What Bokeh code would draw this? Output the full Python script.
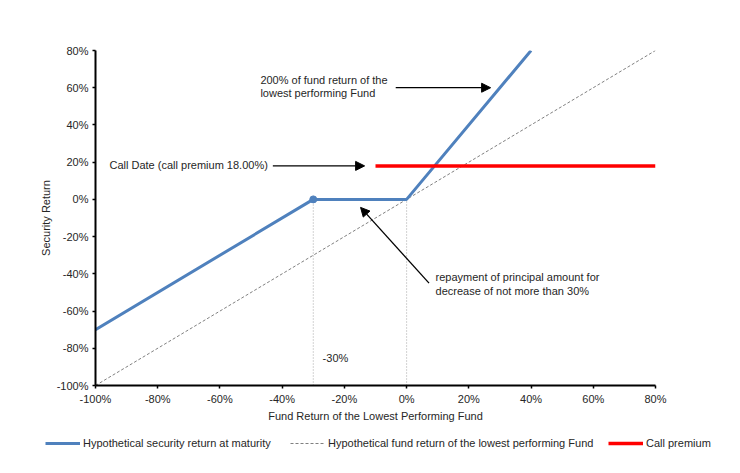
from bokeh.plotting import figure
from bokeh.models import (Range1d, PrintfTickFormatter, FixedTicker, Arrow, NormalHead,
                          Legend, LegendItem, ColumnDataSource)
from bokeh.core.properties import value
from bokeh.embed import file_html
from bokeh.resources import INLINE

# ---- data (percent) ----
security_x = [-100, -30, 0, 40]
security_y = [-70, 0, 0, 80]
fund_x = [-100, 80]
fund_y = [-100, 80]
call_x = [-10, 80]
call_y = [18, 18]
knock_x = [-30]
knock_y = [0]
guide_x = [-30, 0]
guide_top = [0, 0]
guide_bottom = [-100, -100]
ticks_x = [-100, -80, -60, -40, -20, 0, 20, 40, 60, 80]
ticks_y = [-100, -80, -60, -40, -20, 0, 20, 40, 60, 80]

legend_labels = ["Hypothetical security return at maturity",
                 "Hypothetical fund return of the lowest performing Fund",
                 "Call premium"]

notes_text = ["200% of fund return of the\nlowest performing Fund",
              "Call Date (call premium 18.00%)",
              "repayment of principal amount for\ndecrease of not more than 30%",
              "-30%"]
notes_x = [-47, -95.5, 9.3, -27]
notes_y = [60.5, 18.6, -45.5, -85]

arrows = [(-3.5, 60, 27, 60), (-43, 18, -13.5, 18), (7.2, -45, -14.8, -4.3)]

FONT = "Liberation Sans"
TXT = "#262626"
BLUE = "#4F81BD"
RED = "#FF0000"
GRAY = "#808080"

p = figure(width=735, height=428, output_backend="svg", toolbar_location=None,
           x_range=Range1d(-100, 80), y_range=Range1d(-100, 80),
           min_border_left=95, min_border_right=80, min_border_top=50, min_border_bottom=43)
p.outline_line_color = None
p.grid.visible = False

for ax in (p.xaxis[0], p.yaxis[0]):
    ax.formatter = PrintfTickFormatter(format="%d%%")
    ax.axis_line_width = 2
    ax.axis_line_color = "black"
    ax.major_tick_line_color = "black"
    ax.major_tick_line_width = 1.5
    ax.major_tick_out = 3
    ax.major_tick_in = 0
    ax.minor_tick_line_color = None
    ax.major_label_text_font = FONT
    ax.major_label_text_font_size = "11px"
    ax.major_label_text_color = TXT
    ax.axis_label_text_font = FONT
    ax.axis_label_text_font_size = "11px"
    ax.axis_label_text_font_style = "normal"
    ax.axis_label_text_color = TXT
p.xaxis.ticker = FixedTicker(ticks=ticks_x)
p.yaxis.ticker = FixedTicker(ticks=ticks_y)
p.xaxis.axis_label = "Fund Return of the Lowest Performing Fund"
p.yaxis.axis_label = "Security Return"
p.xaxis.major_label_standoff = 4
p.yaxis.major_label_standoff = 4
p.xaxis.axis_label_standoff = 2
p.yaxis.axis_label_standoff = 2

# guides
p.segment(x0=guide_x, y0=guide_bottom, x1=guide_x, y1=guide_top,
          line_color="#a6a6a6", line_width=1, line_dash="1 2")

p.line(fund_x, fund_y, line_color=GRAY, line_width=1, line_dash="3 2")
p.line(security_x, security_y, line_color=BLUE, line_width=3)
p.scatter(knock_x, knock_y, size=7, color=BLUE)
p.line(call_x, call_y, line_color=RED, line_width=3.5)

for (x0, y0, x1, y1) in arrows:
    p.add_layout(Arrow(end=NormalHead(size=9, fill_color="black", line_color="black"),
                       x_start=x0, y_start=y0, x_end=x1, y_end=y1,
                       line_color="black", line_width=1.3))

src = ColumnDataSource(dict(x=notes_x, y=notes_y, t=notes_text))
p.text(x="x", y="y", text="t", source=src, text_font=value(FONT), text_font_size="11px",
       text_color=TXT, text_align="left", text_baseline="middle", text_line_height=1.1)

# ---- legend strip (separate root, so its frame spans the full width) ----
lf = figure(width=735, height=40, output_backend="svg", toolbar_location=None,
            x_axis_location=None, y_axis_location=None,
            x_range=Range1d(0, 1), y_range=Range1d(0, 1),
            min_border=0, min_border_left=0, min_border_right=0,
            min_border_top=0, min_border_bottom=0)
lf.grid.visible = False
lf.outline_line_color = None
# legend-sample renderers: their points lie outside the strip's range, only the key shows
r_sec = lf.line([2, 3], [2, 3], line_color=BLUE, line_width=3)
r_fund = lf.line([2, 3], [2, 3], line_color=GRAY, line_width=1, line_dash="3 2")
r_call = lf.line([2, 3], [2, 3], line_color=RED, line_width=3.5)

def add_legend(label, renderer, x):
    lg = Legend(items=[LegendItem(label=label, renderers=[renderer])], location=(x, 19),
                orientation="horizontal", padding=0, margin=0, spacing=0,
                glyph_width=35, glyph_height=12, label_height=12, label_standoff=3,
                border_line_color=None, background_fill_alpha=0,
                label_text_font=FONT, label_text_font_size="11px", label_text_color=TXT)
    lf.add_layout(lg, "center")

add_legend(legend_labels[0], r_sec, 45)
add_legend(legend_labels[1], r_fund, 290)
add_legend(legend_labels[2], r_call, 608)

open("out.html", "w").write(file_html([p, lf], INLINE))
